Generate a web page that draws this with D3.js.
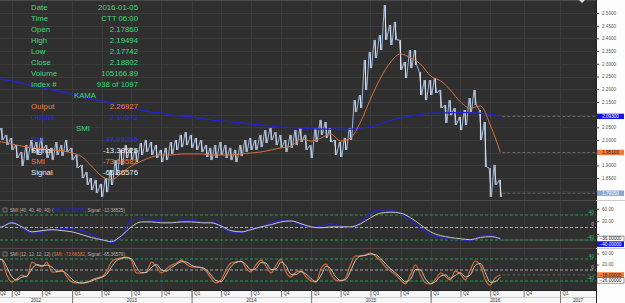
<!DOCTYPE html>
<html>
<head>
<meta charset="utf-8">
<script src="https://cdn.jsdelivr.net/npm/d3@7"></script>
<style>
  html, body { margin: 0; padding: 0; background: #2f2f2f; }
  svg { display: block; }
  text { font-family: "Liberation Sans", Arial, sans-serif; }
</style>
</head>
<body>
<div id="chart"></div>
<script>
// GBPNZD, half-month bars from May 2012 to Aug 2016
const priceHigh = [2.071,2.059,2.047,2.020,2.008,1.980,1.953,1.980,2.000,1.992,
  2.008,1.980,1.969,1.992,1.980,2.000,1.969,1.941,1.902,1.874,
  1.850,1.843,1.827,1.850,1.882,1.921,1.961,1.980,1.969,1.961,
  1.988,2.000,1.992,1.980,1.961,1.969,1.992,2.000,2.020,2.031,
  2.020,2.008,2.000,1.980,1.969,1.980,1.992,1.980,1.969,1.961,
  1.980,2.000,2.008,2.000,2.020,2.039,2.047,2.031,2.020,2.000,
  2.020,2.039,2.047,2.020,1.980,2.047,2.079,2.071,2.047,2.000,
  1.992,2.008,2.047,2.157,2.177,2.315,2.346,2.394,2.413,2.531,
  2.453,2.465,2.394,2.307,2.354,2.354,2.268,2.236,2.236,2.244,
  2.197,2.138,2.157,2.126,2.091,2.118,2.165,2.197,2.118,2.071,
  1.890,1.902,1.843];
const priceLow = [2.031,2.020,2.000,1.980,1.961,1.929,1.898,1.921,1.953,1.941,
  1.961,1.929,1.921,1.941,1.937,1.953,1.921,1.890,1.850,1.823,
  1.803,1.791,1.776,1.795,1.823,1.862,1.902,1.929,1.921,1.913,
  1.941,1.953,1.941,1.929,1.913,1.921,1.945,1.961,1.972,1.980,
  1.969,1.961,1.953,1.933,1.921,1.929,1.941,1.929,1.921,1.913,
  1.937,1.953,1.961,1.961,1.972,1.988,2.000,1.980,1.969,1.953,
  1.969,1.980,1.992,1.961,1.929,1.992,2.020,2.008,1.992,1.941,
  1.933,1.961,2.000,2.110,2.126,2.197,2.283,2.323,2.354,2.394,
  2.374,2.394,2.276,2.244,2.283,2.295,2.177,2.157,2.177,2.185,
  2.126,2.067,2.098,2.059,2.039,2.059,2.110,2.138,2.000,1.894,
  1.776,1.823,1.776];
const lastClose = 1.7905;

// monthly KAMA lines (May 2012 .. Aug 2016)
const kamaFast = [1.996,1.992,1.984,1.976,1.969,1.965,1.961,1.957,1.949,1.933,
  1.898,1.858,1.843,1.870,1.898,1.917,1.933,1.941,1.941,1.945,
  1.945,1.945,1.941,1.941,1.941,1.945,1.949,1.953,1.961,1.969,
  1.976,2.004,1.996,2.008,2.024,1.996,2.008,2.071,2.161,2.244,
  2.307,2.339,2.323,2.299,2.252,2.232,2.197,2.150,2.126,2.134,
  2.059,1.951];
const kamaSlow = [2.248,2.240,2.232,2.224,2.213,2.205,2.197,2.189,2.181,2.173,
  2.161,2.154,2.146,2.134,2.126,2.118,2.110,2.106,2.098,2.094,
  2.091,2.083,2.079,2.075,2.071,2.067,2.063,2.059,2.055,2.051,
  2.049,2.047,2.045,2.043,2.043,2.043,2.043,2.047,2.053,2.063,
  2.077,2.087,2.094,2.102,2.106,2.106,2.108,2.108,2.108,2.106,
  2.100,2.093];

// SMI (40,40,40,40) monthly
const smiSlow = [-10,2,18,-1,-20,-14,-7,-4,-4,-10,-23,-39,-48,-29,24,27,24,21,18,21,
  24,18,18,5,-17,-17,-4,2,15,24,21,9,-1,5,12,5,-1,18,46,56,
  56,43,21,-4,-23,-32,-39,-39,-42,-26,-23,-40];
const sigSlow = [-4,2,15,2,-14,-10,-7,-10,-14,-23,-32,-39,-45,-26,2,18,18,15,15,18,
  18,15,15,5,-10,-14,-7,2,9,18,21,12,2,-1,2,2,2,12,31,46,
  49,46,31,9,-14,-26,-32,-36,-39,-32,-29,-36];

// SMI (12,12,12,12) half-monthly
const smiFast = [29,44,36,-18,-44,-33,-18,-25,29,18,11,29,-7,-7,0,-25,-44,-47,-47,-44,
  -36,-29,-25,-7,29,40,44,47,36,-11,-11,-7,29,11,-11,4,18,25,36,22,
  11,11,7,-7,-29,-47,-36,0,25,29,33,7,-7,18,36,15,-11,18,40,-7,
  -25,-7,-4,-25,-40,-44,7,22,-11,-36,-40,-29,18,51,51,55,62,51,33,11,
  -4,-18,-36,-51,-15,18,-18,-47,-51,-33,-11,-25,-36,-4,-15,-36,0,33,15,-36,
  -55,-29,-18];
const sigFast = [25,35,38,10,-25,-36,-26,-22,5,20,15,18,10,-5,-4,-14,-34,-45,-47,-45,
  -40,-33,-27,-16,10,33,42,45,41,12,-10,-9,10,20,0,-4,10,21,30,29,
  17,11,9,0,-18,-38,-42,-18,12,27,31,20,0,5,27,25,2,4,29,16,
  -16,-16,-6,-14,-32,-42,-18,14,5,-23,-38,-35,-5,34,51,53,58,56,42,22,
  4,-11,-27,-43,-33,2,0,-32,-49,-42,-22,-18,-30,-20,-10,-25,-18,16,24,-10,
  -45,-42,-26];

const priceTicks = [2.50,2.45,2.40,2.35,2.30,2.25,2.20,2.15,2.10,2.05,2.00,1.95,1.90,1.85,1.80];
const smi1Ticks = [60,20,-20];
const smi2Ticks = [60,20];
const smiLevels = [40,0,-40];
const years = [2012,2013,2014,2015,2016,2017];

const infoRows = [
  ["Date","2016-01-05"],["Time","CTT 06:00"],["Open","2.17860"],["High","2.19494"],
  ["Low","2.17742"],["Close","2.18802"],["Volume","105166.89"],["Index #","938 of 1097"]
];
const kamaRows = [["Output","2.26927","#f0803a"],["Output","2.10572","#2626e8"]];
const smiRows = [["SMI","-37.99255","#2a2aff"],["Signal","-13.38525","#eeeeee"],
                 ["SMI","-73.66582","#f0803a"],["Signal","-65.36576","#eeeeee"]];

const W = 625, H = 303, plotRight = 596;
const green = "#3ddc7a";

const svg = d3.select("#chart").append("svg").attr("width", W).attr("height", H);
svg.append("rect").attr("width", W).attr("height", H).attr("fill", "#2f2f2f");

const halfDates = priceHigh.map((d, i) => new Date(2012, 4 + Math.floor(i / 2), i % 2 ? 16 : 1));
const monthDates = kamaFast.map((d, k) => new Date(2012, 4 + k, 1));

const x = d3.scaleTime()
  .domain([new Date(2012, 3, 1), new Date(2016, 7, 15), new Date(2017, 0, 1), new Date(2017, 3, 1)])
  .range([-18, 505, 560, 600]);
const yPrice = d3.scaleLinear().domain([1.7, 2.5]).range([216.2, 13]);
const ySmi1 = d3.scaleLinear().domain([-40, 40]).range([240, 215]);
const ySmi2 = d3.scaleLinear().domain([-40, 40]).range([281, 259]);

// quarter boundaries that fall inside the plot (Q3 2012 .. Q1 2017)
const quarterDates = d3.timeMonth.every(3).range(new Date(2012, 6, 1), new Date(2017, 1, 1));

const defs = svg.append("defs");
defs.append("clipPath").attr("id", "cMain").append("rect").attr("x", 0).attr("y", 1).attr("width", plotRight).attr("height", 199);
defs.append("clipPath").attr("id", "cS1").append("rect").attr("x", 0).attr("y", 202).attr("width", plotRight).attr("height", 46);
defs.append("clipPath").attr("id", "cS2").append("rect").attr("x", 0).attr("y", 249).attr("width", plotRight).attr("height", 41);

// grid
const grid = svg.append("g").attr("stroke", "#3b3b3b").attr("stroke-width", 1);
grid.selectAll(".vg").data(quarterDates).enter().append("line")
  .attr("x1", d => Math.round(x(d)) + 0.5).attr("x2", d => Math.round(x(d)) + 0.5)
  .attr("y1", 0).attr("y2", 290);
grid.selectAll(".hg").data(priceTicks).enter().append("line")
  .attr("x1", 0).attr("x2", plotRight)
  .attr("y1", d => Math.round(yPrice(d)) + 0.5).attr("y2", d => Math.round(yPrice(d)) + 0.5);

// pane separators
[200.5, 248.5].forEach(y => {
  svg.append("line").attr("x1", 0).attr("x2", W).attr("y1", y).attr("y2", y).attr("stroke", "#4a4a4a");
});
svg.append("line").attr("x1", 0).attr("x2", plotRight).attr("y1", 0.5).attr("y2", 0.5).attr("stroke", "#4a4a4a");

// ---- main pane
const main = svg.append("g").attr("clip-path", "url(#cMain)");
const lastX = x(halfDates[halfDates.length - 1]);

const endLines = [lastClose, kamaSlow[kamaSlow.length - 1], kamaFast[kamaFast.length - 1]];
main.selectAll(".endl").data(endLines).enter().append("line")
  .attr("x1", lastX + 2).attr("x2", plotRight)
  .attr("y1", d => yPrice(d)).attr("y2", d => yPrice(d))
  .attr("stroke", "#777").attr("stroke-dasharray", "3,2").attr("stroke-width", 0.8);

const zig = [];
halfDates.forEach((d, i) => {
  zig.push([x(d) - 1.2, yPrice(priceHigh[i])]);
  zig.push([x(d) + 1.2, yPrice(priceLow[i])]);
});
main.append("path").attr("d", d3.line()(zig))
  .attr("fill", "none").attr("stroke", "#9fb9de").attr("stroke-width", 1);
main.selectAll(".bar").data(halfDates).enter().append("line")
  .attr("x1", d => x(d)).attr("x2", d => x(d))
  .attr("y1", (d, i) => yPrice(priceHigh[i])).attr("y2", (d, i) => yPrice(priceLow[i]))
  .attr("stroke", "#e6eef9").attr("stroke-width", 0.9);

const lineMonth = (arr, y) => d3.line().curve(d3.curveMonotoneX)
  .x((d, k) => x(monthDates[k])).y(d => y(d))(arr);
main.append("path").attr("d", lineMonth(kamaSlow, yPrice))
  .attr("fill", "none").attr("stroke", "#2323d8").attr("stroke-width", 1.3);
main.append("path").attr("d", lineMonth(kamaFast, yPrice))
  .attr("fill", "none").attr("stroke", "#d9703a").attr("stroke-width", 1);

// top marker
svg.append("path").attr("d", "M579,0 L585,0 L582,3 Z").attr("fill", "#ddd");

// ---- SMI panes
function smiPane(clip, y, smi, sig, dates, colour, header, top) {
  const g = svg.append("g").attr("clip-path", clip);
  g.selectAll(".lvl").data(smiLevels).enter().append("line")
    .attr("x1", 0).attr("x2", plotRight)
    .attr("y1", d => y(d)).attr("y2", d => y(d))
    .attr("stroke", d => d === 0 ? "#a8a8a8" : "#1f9f4f")
    .attr("stroke-dasharray", "3,2").attr("stroke-width", 1);
  g.selectAll(".lvt").data(smiLevels).enter().append("text")
    .attr("x", 594).attr("y", d => y(d) - 1.5).attr("text-anchor", "end")
    .attr("font-size", 5).attr("fill", d => d === 0 ? "#bbb" : "#2fbf5f").text(d => d);
  const n = smi.length - 1;
  g.append("line").attr("x1", x(dates[n]) + 2).attr("x2", plotRight)
    .attr("y1", y(smi[n])).attr("y2", y(smi[n]))
    .attr("stroke", "#666").attr("stroke-dasharray", "3,2").attr("stroke-width", 0.8);
  const ln = d3.line().curve(d3.curveMonotoneX).x((d, i) => x(dates[i])).y(d => y(d));
  g.append("path").attr("d", ln(smi)).attr("fill", "none").attr("stroke", colour).attr("stroke-width", 1.1);
  g.append("path").attr("d", ln(sig)).attr("fill", "none").attr("stroke", "#c9c9c9").attr("stroke-width", 1);

  svg.append("rect").attr("x", 3).attr("y", top - 2).attr("width", 4).attr("height", 4)
    .attr("fill", "none").attr("stroke", "#999").attr("stroke-width", 0.6);
  const t = svg.append("text").attr("x", 10).attr("y", top).attr("dy", "0.35em")
    .attr("font-size", 4.6).attr("fill", "#b5b5b5");
  t.append("tspan").text(header[0]);
  t.append("tspan").attr("fill", colour).text(header[1]);
  t.append("tspan").text(header[2]);
}
smiPane("url(#cS1)", ySmi1, smiSlow, sigSlow, monthDates, "#2525e0",
  ["SMI (40, 40, 40, 40) (", "SMI: -37.99255", ", Signal: -13.38525)"], 210);
smiPane("url(#cS2)", ySmi2, smiFast, sigFast, halfDates, "#e0742f",
  ["SMI (12, 12, 12, 12) (", "SMI: -73.66582", ", Signal: -65.36576)"], 254);

// ---- right axis panel
svg.append("rect").attr("x", plotRight).attr("y", 0).attr("width", W - plotRight).attr("height", H).attr("fill", "#fdfdfd");
svg.append("line").attr("x1", plotRight + 0.5).attr("x2", plotRight + 0.5).attr("y1", 0).attr("y2", H).attr("stroke", "#222");
[200.5, 248.5].forEach(y => {
  svg.append("line").attr("x1", plotRight).attr("x2", W).attr("y1", y).attr("y2", y).attr("stroke", "#ccc");
});

const f5 = d3.format(".5f");
const priceTags = [
  { y: yPrice(kamaSlow[kamaSlow.length - 1]), text: f5(kamaSlow[kamaSlow.length - 1]), fill: "#1414e6", color: "#fff" },
  { y: yPrice(kamaFast[kamaFast.length - 1]), text: f5(kamaFast[kamaFast.length - 1]), fill: "#f07a36", color: "#222" },
  { y: yPrice(lastClose), text: f5(lastClose), fill: "#86a8d4", color: "#fff" }
];
const smi1Tags = [
  { y: ySmi1(sigSlow[sigSlow.length - 1]), text: f5(sigSlow[sigSlow.length - 1]), fill: "#fff", color: "#222", stroke: "#333" },
  { y: ySmi1(smiSlow[smiSlow.length - 1]), text: f5(smiSlow[smiSlow.length - 1]), fill: "#1414e6", color: "#fff" }
];
const smi2Tags = [
  { y: ySmi2(sigFast[sigFast.length - 1]), text: f5(sigFast[sigFast.length - 1]), fill: "#fff", color: "#222", stroke: "#333" },
  { y: ySmi2(smiFast[smiFast.length - 1]), text: f5(smiFast[smiFast.length - 1]), fill: "#f07a36", color: "#222" }
];

function spread(list) {
  list.sort((a, b) => a.y - b.y);
  for (let i = 1; i < list.length; i++) {
    if (list[i].y - list[i - 1].y < 5.5) list[i].y = list[i - 1].y + 5.5;
  }
  return list;
}
[priceTags, smi1Tags, smi2Tags].forEach(spread);

// tick labels hidden where a value tag sits on top of them
function styleAxis(g, tagList, y) {
  g.select(".domain").remove();
  g.selectAll(".tick line").attr("stroke", "#444");
  g.selectAll(".tick text").attr("font-size", 4.6).attr("fill", "#555").attr("x", 6);
  g.selectAll(".tick").filter(d => tagList.some(t => Math.abs(t.y - y(d)) < 5.5)).select("text").remove();
}
svg.append("g").attr("transform", `translate(${plotRight},0)`)
  .call(d3.axisRight(yPrice).tickValues(priceTicks).tickSize(3).tickFormat(d3.format(".4f")))
  .call(styleAxis, priceTags, yPrice);
svg.append("g").attr("transform", `translate(${plotRight},0)`)
  .call(d3.axisRight(ySmi1).tickValues(smi1Ticks).tickSize(3).tickFormat(d3.format(".2f")))
  .call(styleAxis, smi1Tags, ySmi1);
svg.append("g").attr("transform", `translate(${plotRight},0)`)
  .call(d3.axisRight(ySmi2).tickValues(smi2Ticks).tickSize(3).tickFormat(d3.format(".2f")))
  .call(styleAxis, smi2Tags, ySmi2);

function drawTags(list) {
  list.forEach(t => {
    svg.append("rect").attr("x", plotRight + 1).attr("y", t.y - 2.7).attr("width", 27).attr("height", 5.4)
      .attr("fill", t.fill).attr("stroke", t.stroke || "none").attr("stroke-width", 0.5);
    svg.append("text").attr("x", plotRight + 14.5).attr("y", t.y).attr("dy", "0.35em")
      .attr("text-anchor", "middle").attr("font-size", 4.6).attr("fill", t.color).text(t.text);
  });
}
[priceTags, smi1Tags, smi2Tags].forEach(drawTags);

// ---- bottom time axis
const bottom = svg.append("g");
bottom.append("rect").attr("x", 0).attr("y", 290).attr("width", plotRight).attr("height", 13).attr("fill", "#f6f6f6");
bottom.append("line").attr("x1", 0).attr("x2", plotRight).attr("y1", 290.5).attr("y2", 290.5).attr("stroke", "#222");
bottom.append("line").attr("x1", 0).attr("x2", plotRight).attr("y1", 297.5).attr("y2", 297.5).attr("stroke", "#ccc");
const qAxis = bottom.append("g").attr("transform", "translate(0,290)")
  .call(d3.axisBottom(x).tickValues(quarterDates).tickSize(7)
    .tickFormat(d => "Q" + (Math.floor(d.getMonth() / 3) + 1)));
qAxis.select(".domain").remove();
qAxis.selectAll(".tick line").attr("stroke", "#777");
qAxis.selectAll(".tick text").attr("text-anchor", "start").attr("x", 2).attr("y", 1.6)
  .attr("font-size", 4.6).attr("fill", "#333");
qAxis.append("text").attr("x", 3).attr("y", 1.6).attr("dy", "0.71em")
  .attr("font-size", 4.6).attr("fill", "#333").text("Q2");

const yearStarts = years.map(y => new Date(y, 0, 1));
const yAxis = bottom.append("g").attr("transform", "translate(0,290)")
  .call(d3.axisBottom(x).tickValues(yearStarts.slice(1)).tickSize(13).tickFormat(""));
yAxis.select(".domain").remove();
yAxis.selectAll(".tick line").attr("stroke", "#777");
bottom.selectAll(".yl").data(years).enter().append("text")
  .attr("x", y => {
    const a = Math.max(0, x(new Date(y, 0, 1))), b = Math.min(plotRight, x(new Date(y + 1, 0, 1)));
    return (a + b) / 2;
  })
  .attr("y", 301.5).attr("text-anchor", "middle").attr("font-size", 4.6).attr("fill", "#333")
  .text(d => d);

// ---- data window overlay
const info = svg.append("g").attr("font-size", 7.8);
const rowY = i => 7 + i * 11;
infoRows.forEach((r, i) => {
  info.append("text").attr("x", 31).attr("y", rowY(i)).attr("dy", "0.35em").attr("fill", green).text(r[0]);
  info.append("text").attr("x", 138).attr("y", rowY(i)).attr("dy", "0.35em").attr("text-anchor", "end").attr("fill", green).text(r[1]);
});
info.append("text").attr("x", 85).attr("y", rowY(8)).attr("dy", "0.35em").attr("text-anchor", "middle").attr("fill", green).text("KAMA");
kamaRows.forEach((r, i) => {
  info.append("text").attr("x", 31).attr("y", rowY(9 + i)).attr("dy", "0.35em").attr("fill", r[2]).text(r[0]);
  info.append("text").attr("x", 138).attr("y", rowY(9 + i)).attr("dy", "0.35em").attr("text-anchor", "end").attr("fill", r[2]).text(r[1]);
});
info.append("text").attr("x", 83).attr("y", rowY(11)).attr("dy", "0.35em").attr("text-anchor", "middle").attr("fill", green).text("SMI");
smiRows.forEach((r, i) => {
  info.append("text").attr("x", 31).attr("y", rowY(12 + i)).attr("dy", "0.35em").attr("fill", r[2]).text(r[0]);
  info.append("text").attr("x", 138).attr("y", rowY(12 + i)).attr("dy", "0.35em").attr("text-anchor", "end").attr("fill", r[2]).text(r[1]);
});
</script>
</body>
</html>
